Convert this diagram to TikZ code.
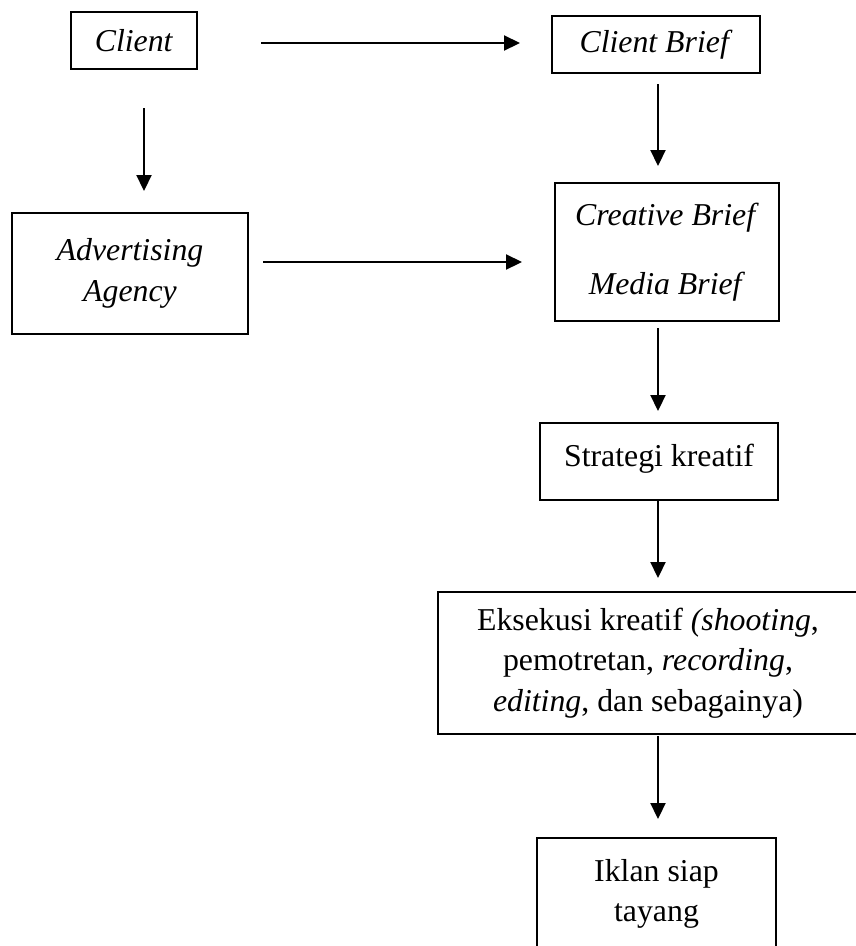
\documentclass[tikz,border=0pt]{standalone}
\usepackage{fontspec}
\setmainfont{Liberation Serif}
\usetikzlibrary{arrows.meta,calc}
\tikzset{
	flow chart/.style={
		x=1pt, y=-1pt,
		box/.style={draw, line width=2pt, inner sep=0pt, align=center,
			font=\fontsize{31.8}{40.5}\selectfont},
		ar/.style={draw, line width=2.2pt, -{Triangle[length=16pt,width=15pt]}}
		},
	bb/.style 2 args={minimum width=#1pt, minimum height=#2pt}
}

\begin{document}
\begin{tikzpicture}[flow chart]
	\useasboundingbox (0,0) rectangle (855,946);
	% boxes
	\node[box, bb={126}{57}] (client) at (134,40.5) {\textit{Client}};
	\node[box, bb={208}{57}] (cbrief) at (656,44.5) {\textit{Client Brief}};
	\node[box, bb={236}{121}] (agency) at (130,273.5) {\textit{Advertising}\\\textit{Agency}};
	\node[box, bb={224}{138}] (cmbrief) at (667,252) {\textit{Creative Brief}\\[28.5pt]\textit{Media Brief}};
	\node[box, bb={238}{77}, text depth=12pt] (strat) at (659,461.5) {Strategi kreatif};
	\node[box, bb={420}{142}] (eksekusi) at (648,663) {Eksekusi kreatif \textit{(shooting}, \\ pemotretan, \textit{recording}, \\ \textit{editing}, dan sebagainya)};
	\node[box, bb={239}{112}] (iklan) at (656.5,894) {Iklan siap\\tayang};
	% columns and rows of the connectors
	\coordinate (lc) at (144,0);
	\coordinate (rc) at (658,0);
	\coordinate (r1) at (0,43);
	\coordinate (r2) at (0,262);
	\draw[ar, shorten <=63pt, shorten >=31pt] (client.east |- r1) -- (cbrief.west |- r1);
	\draw[ar, shorten <=14pt, shorten >=32pt] (agency.east |- r2) -- (cmbrief.west |- r2);
	\draw[ar, shorten <=38pt, shorten >=21pt] (client.south -| lc) -- (agency.north -| lc);
	\draw[ar, shorten <=10pt, shorten >=16pt] (cbrief.south -| rc) -- (cmbrief.north -| rc);
	\draw[ar, shorten <=6pt, shorten >=11pt] (cmbrief.south -| rc) -- (strat.north -| rc);
	\draw[ar, shorten >=13pt] (strat.south -| rc) -- (eksekusi.north -| rc);
	\draw[ar, shorten <=1pt, shorten >=18pt] (eksekusi.south -| rc) -- (iklan.north -| rc);
\end{tikzpicture}
\end{document}
